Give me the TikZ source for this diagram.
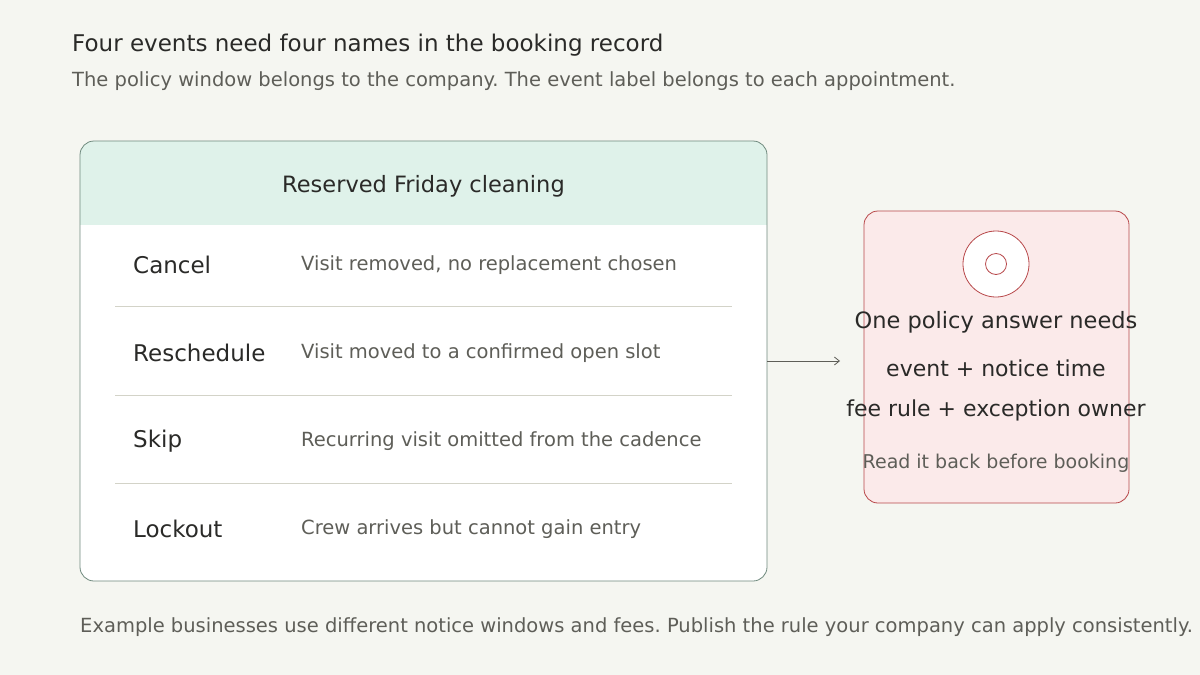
\documentclass[tikz,border=0pt]{standalone}
\usepackage{fontspec}
\setmainfont{DejaVu Sans}
\usetikzlibrary{arrows.meta,positioning}
\definecolor{bgc}{HTML}{F5F6F1}
\definecolor{inkc}{HTML}{2A2A28}
\definecolor{mutedc}{HTML}{5E5E58}
\definecolor{headc}{HTML}{DFF2EA}
\definecolor{cardln}{HTML}{6F8A7E}
\definecolor{rulec}{HTML}{D3D3C8}
\definecolor{pinkc}{HTML}{FBEAEA}
\definecolor{redc}{HTML}{B8484A}
\tikzset{
  lbl/.style={anchor=west, inner sep=0pt, text=inkc, font=\fontsize{23}{26}\selectfont},
  desc/.style={anchor=west, inner sep=0pt, text=mutedc, font=\fontsize{19.5}{23}\selectfont},
  line/.style={text=inkc, font=\fontsize{22}{26}\selectfont}
}
\begin{document}
\frenchspacing
\begin{tikzpicture}[x=1pt,y=-1pt]
  \clip (0,0) rectangle (1200,675);
  \fill[bgc] (0,0) rectangle (1200,675);
  % heading
  \node[anchor=west, inner sep=0pt, text=inkc, font=\fontsize{23}{26}\selectfont] (title) at (72,45) {Four events need four names in the booking record};
  \node[anchor=west, inner sep=0pt, text=mutedc, font=\fontsize{19.5}{23}\selectfont] (sub) at (72,81) {The policy window belongs to the company. The event label belongs to each appointment.};
  % record card
  \begin{scope}
    \clip[rounded corners=14pt] (80,141) rectangle (767,581);
    \fill[white] (80,141) rectangle (767,581);
    \fill[headc] (80,141) rectangle (767,225);
  \end{scope}
  \draw[cardln, line width=0.8pt, rounded corners=14pt] (80,141) rectangle (767,581);
  \node[text=inkc, font=\fontsize{22.5}{26}\selectfont] (head) at (423.5,186) {Reserved Friday cleaning};
  \foreach \y in {306,395,483} \draw[rulec, line width=0.9pt] (115,\y) -- (732,\y);
  \node[lbl] (cancel) at (133,265) {Cancel};
  \node[desc] at (301,265) {Visit removed, no replacement chosen};
  \node[lbl] (resch) at (133,353) {Reschedule};
  \node[desc] at (301,353) {Visit moved to a confirmed open slot};
  \node[lbl] (skip) at (133,441) {Skip};
  \node[desc] at (301,441) {Recurring visit omitted from the cadence};
  \node[lbl] (lock) at (133,529) {Lockout};
  \node[desc] at (301,529) {Crew arrives but cannot gain entry};
  % policy card
  \draw[redc, line width=0.8pt, fill=pinkc, rounded corners=14pt] (864,211) rectangle (1129,503);
  \coordinate (from) at (767,361);
  \coordinate (to) at (840,361);
  \draw[mutedc, line width=0.8pt, -{Straight Barb[length=5pt,width=8pt]}] (from) -- (to);
  \draw[redc, line width=0.8pt, fill=white] (996,264) circle (33);
  \draw[redc, line width=0.8pt] (996,264) circle (10.5);
  \node[line, font=\fontsize{22.5}{26}\selectfont] (ans) at (996,322) {One policy answer needs};
  \node[line] (ev) at (996,368) {event + notice time};
  \node[line] (fee) at (996,410) {fee rule + exception owner};
  \node[text=mutedc, font=\fontsize{19}{23}\selectfont] (read) at (996,463) {Read it back before booking};
  % footer
  \node[anchor=west, inner sep=0pt, text=mutedc, font=\fontsize{19.5}{23}\selectfont] (foot) at (80,627) {Example businesses use different notice windows and fees. Publish the rule your company can apply consistently.};
\end{tikzpicture}
\end{document}
